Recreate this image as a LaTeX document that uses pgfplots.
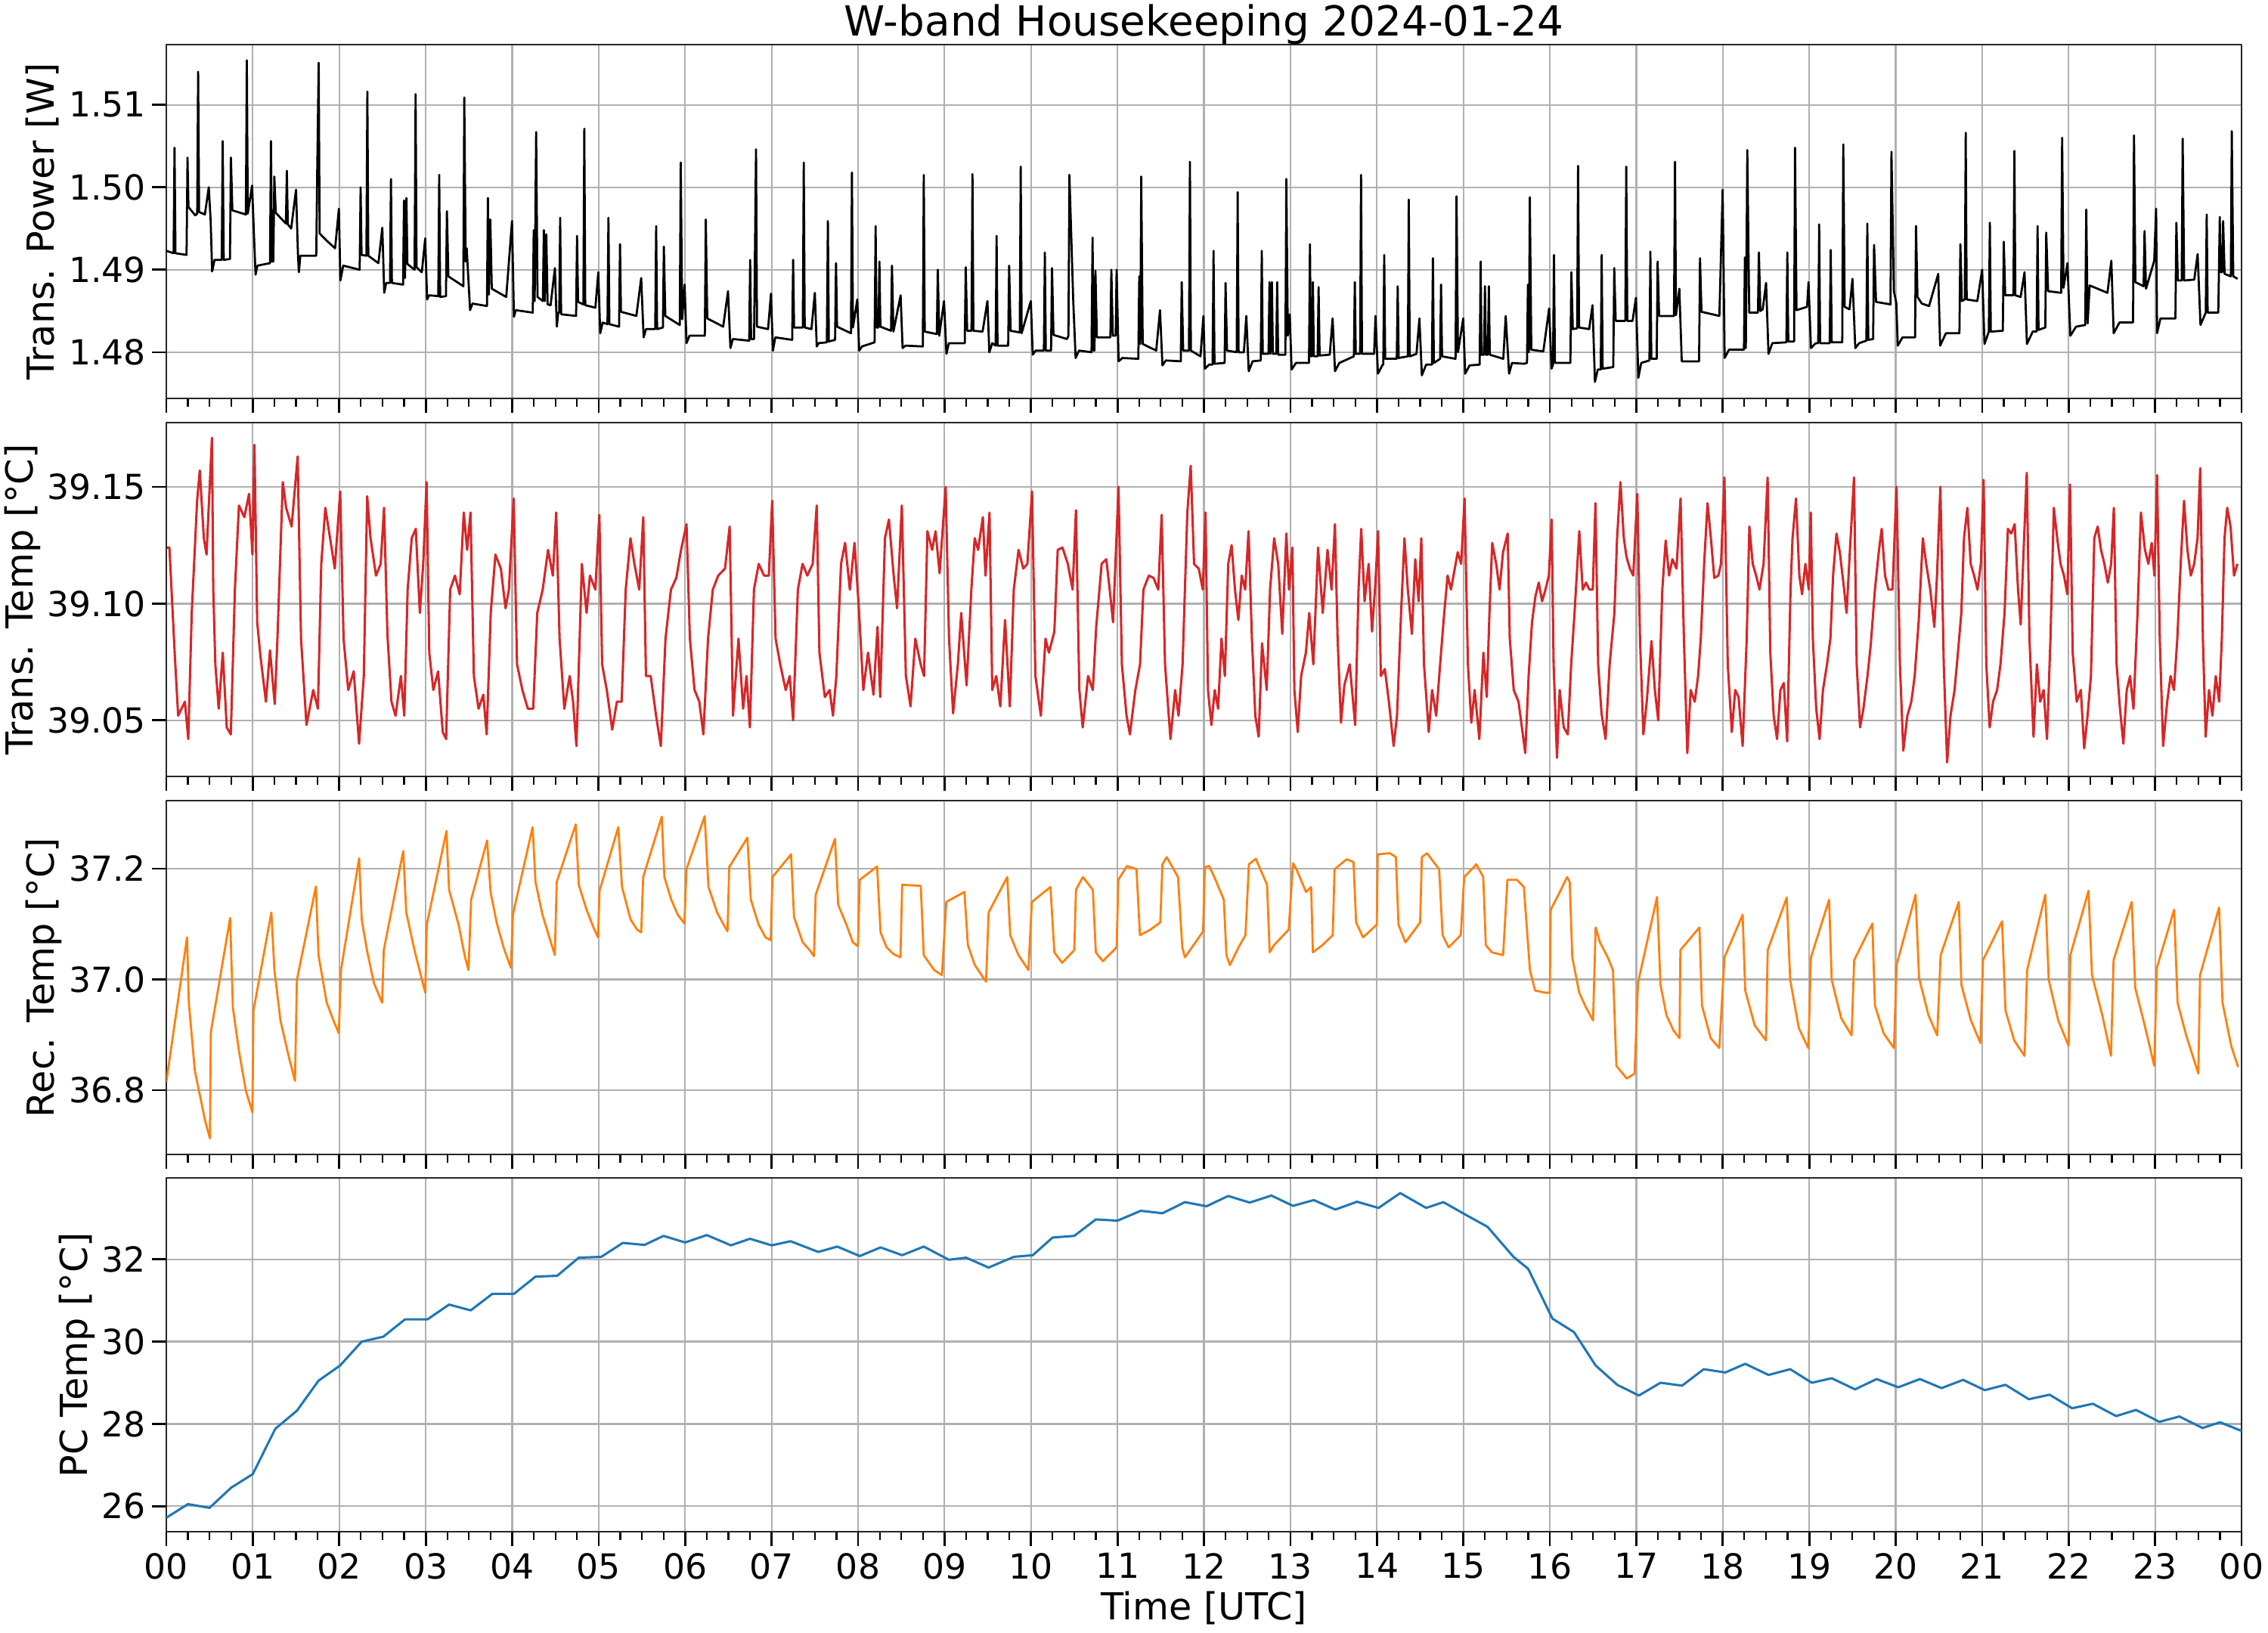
\documentclass[border=0pt]{standalone}
\usepackage{fontspec}
\setmainfont{DejaVu Sans}
\usepackage{pgfplots}
\usepackage{pgfplotstable}
\pgfplotsset{compat=1.18}
\definecolor{cred}{HTML}{D62728}
\definecolor{corange}{HTML}{FF7F0E}
\definecolor{cblue}{HTML}{1F77B4}
\definecolor{gridc}{HTML}{B0B0B0}
\definecolor{spine}{HTML}{262626}

\pgfplotstableread{
h v
0.000 1.4923
0.084 1.4920
0.095 1.5048
0.106 1.4920
0.234 1.4918
0.245 1.5036
0.256 1.4976
0.335 1.4966
0.357 1.4968
0.368 1.5140
0.379 1.4970
0.446 1.4967
0.491 1.5000
0.513 1.4959
0.530 1.4898
0.558 1.4912
0.641 1.4912
0.652 1.5056
0.664 1.4912
0.736 1.4913
0.747 1.5036
0.764 1.4972
0.920 1.4967
0.931 1.5154
0.942 1.4968
0.992 1.5002
1.015 1.4939
1.032 1.4894
1.054 1.4905
1.199 1.4908
1.210 1.5056
1.221 1.4910
1.238 1.4910
1.249 1.5013
1.266 1.4969
1.383 1.4956
1.394 1.5020
1.405 1.4955
1.444 1.4950
1.500 1.4997
1.522 1.4920
1.533 1.4897
1.550 1.4917
1.734 1.4917
1.745 1.5018
1.762 1.5151
1.773 1.4944
1.857 1.4935
1.952 1.4926
1.996 1.4974
2.013 1.4887
2.046 1.4905
2.236 1.4900
2.247 1.5000
2.258 1.4918
2.314 1.4917
2.325 1.5116
2.336 1.4917
2.453 1.4908
2.498 1.4951
2.520 1.4872
2.543 1.4884
2.587 1.4884
2.598 1.5010
2.609 1.4884
2.738 1.4882
2.749 1.4984
2.760 1.4890
2.777 1.4987
2.788 1.4907
2.871 1.4900
2.883 1.5113
2.894 1.4903
2.955 1.4897
2.994 1.4938
3.016 1.4864
3.039 1.4869
3.145 1.4868
3.156 1.5015
3.167 1.4867
3.234 1.4868
3.245 1.4971
3.262 1.4892
3.435 1.4880
3.446 1.5109
3.462 1.4910
3.474 1.4926
3.513 1.4851
3.541 1.4859
3.708 1.4856
3.719 1.4987
3.730 1.4870
3.747 1.4961
3.764 1.4877
3.931 1.4867
3.998 1.4959
4.020 1.4843
4.042 1.4851
4.238 1.4848
4.249 1.4948
4.260 1.4862
4.277 1.5067
4.293 1.4867
4.355 1.4862
4.366 1.4948
4.377 1.4862
4.394 1.4943
4.410 1.4858
4.444 1.4857
4.494 1.4902
4.516 1.4831
4.533 1.4848
4.544 1.4848
4.555 1.4963
4.566 1.4846
4.739 1.4844
4.750 1.4941
4.762 1.4861
4.823 1.4858
4.834 1.5071
4.845 1.4857
4.962 1.4854
4.996 1.4897
5.018 1.4823
5.046 1.4836
5.102 1.4834
5.113 1.4963
5.124 1.4834
5.236 1.4831
5.247 1.4931
5.258 1.4849
5.436 1.4844
5.492 1.4890
5.520 1.4818
5.548 1.4828
5.654 1.4828
5.665 1.4953
5.676 1.4828
5.743 1.4830
5.754 1.4928
5.771 1.4844
5.938 1.4833
5.949 1.5030
5.966 1.4840
5.994 1.4882
6.016 1.4811
6.050 1.4820
6.228 1.4820
6.239 1.4961
6.256 1.4841
6.440 1.4831
6.496 1.4874
6.524 1.4805
6.552 1.4816
6.741 1.4814
6.752 1.4912
6.763 1.4816
6.797 1.4816
6.820 1.5046
6.831 1.4831
6.959 1.4828
6.993 1.4871
7.015 1.4802
7.043 1.4818
7.238 1.4815
7.249 1.4912
7.260 1.4830
7.361 1.4830
7.372 1.5030
7.383 1.4830
7.461 1.4828
7.500 1.4872
7.522 1.4807
7.545 1.4811
7.639 1.4812
7.651 1.4959
7.662 1.4813
7.734 1.4815
7.745 1.4908
7.757 1.4831
7.918 1.4823
7.929 1.5018
7.941 1.4830
7.991 1.4864
8.013 1.4802
8.046 1.4807
8.191 1.4812
8.203 1.4953
8.214 1.4830
8.236 1.4830
8.247 1.4910
8.258 1.4831
8.381 1.4826
8.392 1.4905
8.409 1.4825
8.492 1.4869
8.515 1.4805
8.548 1.4808
8.749 1.4807
8.760 1.5015
8.771 1.4825
8.911 1.4822
8.922 1.4900
8.939 1.4820
8.994 1.4862
9.022 1.4798
9.050 1.4811
9.234 1.4811
9.245 1.4903
9.262 1.4826
9.312 1.4826
9.323 1.5016
9.334 1.4826
9.440 1.4825
9.496 1.4862
9.518 1.4800
9.552 1.4811
9.591 1.4808
9.602 1.4941
9.613 1.4808
9.736 1.4808
9.747 1.4905
9.764 1.4826
9.870 1.4824
9.881 1.5025
9.892 1.4823
9.998 1.4862
10.020 1.4797
10.054 1.4802
10.149 1.4802
10.160 1.4921
10.171 1.4802
10.232 1.4802
10.243 1.4902
10.260 1.4821
10.416 1.4816
10.433 1.4820
10.444 1.5015
10.489 1.4861
10.516 1.4793
10.555 1.4802
10.700 1.4800
10.712 1.4939
10.723 1.4802
10.734 1.4802
10.745 1.4899
10.762 1.4818
10.918 1.4818
10.929 1.4900
10.946 1.4820
10.979 1.4820
10.990 1.4900
11.013 1.4789
11.057 1.4793
11.241 1.4792
11.252 1.4892
11.264 1.4810
11.275 1.5013
11.292 1.4810
11.448 1.4802
11.492 1.4851
11.520 1.4784
11.559 1.4790
11.732 1.4789
11.743 1.4885
11.760 1.4802
11.827 1.4802
11.838 1.5031
11.849 1.4802
11.960 1.4795
11.994 1.4844
12.011 1.4780
12.061 1.4785
12.100 1.4785
12.111 1.4923
12.122 1.4786
12.239 1.4787
12.250 1.4884
12.267 1.4802
12.379 1.4800
12.390 1.4994
12.401 1.4800
12.462 1.4800
12.490 1.4844
12.518 1.4777
12.563 1.4789
12.657 1.4790
12.669 1.4923
12.680 1.4798
12.747 1.4798
12.758 1.4885
12.769 1.4798
12.786 1.4885
12.797 1.4798
12.836 1.4798
12.847 1.4885
12.858 1.4797
12.942 1.4797
12.953 1.5010
12.970 1.4820
12.992 1.4846
13.014 1.4779
13.064 1.4787
13.215 1.4787
13.226 1.4931
13.237 1.4795
13.249 1.4795
13.260 1.4885
13.271 1.4795
13.315 1.4795
13.326 1.4879
13.338 1.4796
13.455 1.4797
13.488 1.4841
13.516 1.4777
13.566 1.4787
13.734 1.4795
13.745 1.4885
13.756 1.4798
13.806 1.4798
13.817 1.5015
13.828 1.4798
13.968 1.4798
13.984 1.4844
14.012 1.4774
14.068 1.4785
14.074 1.4785
14.085 1.4918
14.096 1.4792
14.230 1.4792
14.241 1.4880
14.252 1.4793
14.358 1.4795
14.369 1.4985
14.380 1.4795
14.458 1.4798
14.492 1.4841
14.520 1.4772
14.570 1.4785
14.637 1.4785
14.648 1.4914
14.659 1.4787
14.731 1.4792
14.742 1.4882
14.754 1.4795
14.910 1.4792
14.921 1.4989
14.938 1.4800
14.999 1.4841
15.021 1.4774
15.072 1.4784
15.189 1.4785
15.200 1.4910
15.211 1.4797
15.239 1.4797
15.250 1.4880
15.261 1.4797
15.283 1.4797
15.295 1.4880
15.306 1.4797
15.462 1.4792
15.490 1.4844
15.529 1.4774
15.563 1.4787
15.702 1.4786
15.736 1.4787
15.747 1.4882
15.758 1.4800
15.769 1.4988
15.786 1.4803
15.925 1.4801
15.992 1.4853
16.020 1.4780
16.037 1.4785
16.048 1.4918
16.059 1.4787
16.238 1.4787
16.249 1.4897
16.266 1.4828
16.316 1.4829
16.327 1.5026
16.338 1.4830
16.455 1.4828
16.494 1.4857
16.522 1.4764
16.555 1.4779
16.589 1.4779
16.600 1.4918
16.611 1.4780
16.734 1.4782
16.745 1.4902
16.762 1.4838
16.873 1.4838
16.884 1.5025
16.896 1.4838
16.957 1.4838
16.996 1.4866
17.024 1.4769
17.057 1.4787
17.152 1.4790
17.163 1.4922
17.174 1.4792
17.236 1.4792
17.247 1.4910
17.264 1.4844
17.436 1.4844
17.448 1.5031
17.459 1.4845
17.498 1.4877
17.526 1.4789
17.570 1.4789
17.726 1.4789
17.737 1.4914
17.754 1.4849
17.961 1.4844
17.999 1.4997
18.022 1.4793
18.072 1.4803
18.245 1.4803
18.256 1.4915
18.267 1.4805
18.284 1.5045
18.306 1.4848
18.407 1.4848
18.418 1.4921
18.435 1.4850
18.462 1.4852
18.501 1.4884
18.529 1.4798
18.574 1.4811
18.736 1.4812
18.747 1.4921
18.758 1.4813
18.825 1.4813
18.836 1.5048
18.853 1.4851
18.975 1.4855
18.992 1.4885
19.020 1.4805
19.076 1.4811
19.104 1.4811
19.115 1.4955
19.126 1.4811
19.237 1.4811
19.249 1.4924
19.260 1.4812
19.382 1.4812
19.394 1.5052
19.410 1.4855
19.466 1.4852
19.500 1.4889
19.533 1.4805
19.578 1.4811
19.661 1.4814
19.672 1.4956
19.683 1.4815
19.739 1.4816
19.750 1.4930
19.773 1.4861
19.940 1.4858
19.951 1.5043
19.979 1.4874
20.007 1.4860
20.024 1.4808
20.079 1.4818
20.224 1.4818
20.235 1.4953
20.252 1.4867
20.302 1.4859
20.386 1.4856
20.492 1.4895
20.514 1.4808
20.581 1.4823
20.737 1.4823
20.748 1.4931
20.765 1.4862
20.799 1.4864
20.810 1.5066
20.821 1.4864
20.944 1.4862
21.000 1.4900
21.027 1.4810
21.077 1.4825
21.089 1.4957
21.100 1.4825
21.239 1.4826
21.250 1.4934
21.267 1.4869
21.362 1.4869
21.373 1.5044
21.384 1.4869
21.445 1.4867
21.490 1.4897
21.518 1.4810
21.585 1.4825
21.630 1.4825
21.641 1.4953
21.652 1.4827
21.730 1.4830
21.741 1.4945
21.763 1.4874
21.914 1.4872
21.925 1.5060
21.941 1.4878
21.986 1.4908
22.020 1.4820
22.086 1.4831
22.192 1.4833
22.204 1.4973
22.220 1.4835
22.243 1.4881
22.449 1.4872
22.494 1.4911
22.521 1.4823
22.588 1.4836
22.745 1.4836
22.756 1.5063
22.772 1.4885
22.867 1.4880
22.878 1.4947
22.895 1.4877
22.990 1.4911
23.012 1.4974
23.023 1.4823
23.062 1.4841
23.235 1.4841
23.246 1.4957
23.263 1.4887
23.308 1.4887
23.319 1.5059
23.336 1.4887
23.453 1.4888
23.492 1.4919
23.525 1.4833
23.586 1.4848
23.597 1.4967
23.608 1.4848
23.731 1.4848
23.748 1.4964
23.759 1.4897
23.776 1.4897
23.787 1.4959
23.804 1.4895
23.876 1.4892
23.887 1.5068
23.904 1.4892
23.954 1.4889
}\tabPow

\pgfplotstableread{
h v
0.010 39.124
0.036 39.124
0.098 39.078
0.137 39.052
0.215 39.058
0.254 39.042
0.294 39.096
0.356 39.144
0.387 39.157
0.434 39.128
0.465 39.121
0.528 39.171
0.543 39.106
0.567 39.074
0.606 39.055
0.653 39.079
0.699 39.047
0.746 39.044
0.793 39.106
0.840 39.142
0.902 39.137
0.957 39.147
0.996 39.121
1.019 39.168
1.051 39.092
1.090 39.077
1.152 39.058
1.199 39.080
1.254 39.057
1.285 39.085
1.347 39.152
1.386 39.141
1.449 39.133
1.519 39.163
1.558 39.085
1.621 39.048
1.699 39.063
1.753 39.055
1.792 39.117
1.839 39.141
1.894 39.128
1.948 39.115
2.011 39.148
2.050 39.085
2.104 39.063
2.167 39.071
2.229 39.040
2.284 39.069
2.323 39.146
2.362 39.128
2.425 39.112
2.479 39.117
2.518 39.141
2.557 39.087
2.604 39.058
2.651 39.052
2.713 39.069
2.752 39.052
2.791 39.106
2.838 39.128
2.885 39.132
2.932 39.096
2.971 39.117
3.010 39.152
3.041 39.079
3.088 39.063
3.143 39.071
3.197 39.045
3.236 39.042
3.283 39.106
3.338 39.112
3.393 39.104
3.440 39.139
3.479 39.123
3.518 39.139
3.557 39.069
3.611 39.055
3.666 39.061
3.705 39.044
3.752 39.096
3.806 39.121
3.869 39.115
3.923 39.098
3.962 39.106
4.017 39.145
4.056 39.074
4.118 39.063
4.181 39.055
4.243 39.055
4.290 39.096
4.353 39.106
4.415 39.123
4.470 39.112
4.509 39.139
4.548 39.085
4.603 39.055
4.665 39.069
4.704 39.058
4.743 39.039
4.806 39.117
4.860 39.096
4.899 39.112
4.962 39.106
5.008 39.138
5.040 39.074
5.094 39.063
5.157 39.046
5.211 39.058
5.266 39.058
5.313 39.106
5.368 39.128
5.414 39.117
5.469 39.106
5.516 39.137
5.547 39.069
5.602 39.069
5.664 39.052
5.719 39.039
5.773 39.085
5.836 39.106
5.898 39.111
5.953 39.123
6.016 39.134
6.055 39.085
6.109 39.063
6.164 39.058
6.211 39.044
6.265 39.085
6.320 39.106
6.383 39.112
6.461 39.115
6.515 39.133
6.554 39.052
6.617 39.085
6.671 39.055
6.710 39.069
6.749 39.047
6.796 39.106
6.851 39.117
6.913 39.112
6.968 39.112
7.007 39.144
7.046 39.085
7.100 39.074
7.163 39.063
7.210 39.069
7.249 39.050
7.304 39.106
7.358 39.117
7.413 39.112
7.475 39.117
7.522 39.142
7.553 39.079
7.616 39.060
7.671 39.063
7.710 39.052
7.749 39.069
7.803 39.117
7.850 39.126
7.905 39.106
7.959 39.126
8.006 39.100
8.061 39.063
8.115 39.079
8.178 39.061
8.225 39.090
8.256 39.060
8.311 39.128
8.357 39.136
8.412 39.112
8.451 39.098
8.506 39.142
8.553 39.069
8.607 39.056
8.662 39.085
8.724 39.074
8.763 39.069
8.802 39.131
8.857 39.123
8.896 39.131
8.943 39.113
9.013 39.150
9.052 39.085
9.099 39.053
9.154 39.074
9.193 39.096
9.255 39.065
9.310 39.106
9.349 39.128
9.388 39.123
9.443 39.137
9.474 39.112
9.520 39.139
9.552 39.063
9.598 39.069
9.645 39.056
9.700 39.093
9.755 39.056
9.801 39.106
9.856 39.123
9.911 39.115
9.958 39.117
10.012 39.148
10.051 39.069
10.114 39.052
10.168 39.085
10.207 39.079
10.270 39.088
10.309 39.123
10.364 39.124
10.426 39.117
10.481 39.106
10.520 39.140
10.559 39.063
10.598 39.047
10.660 39.069
10.715 39.063
10.754 39.090
10.817 39.117
10.871 39.119
10.910 39.106
10.949 39.092
11.012 39.150
11.051 39.074
11.105 39.052
11.144 39.044
11.207 39.063
11.261 39.074
11.300 39.106
11.363 39.112
11.417 39.111
11.472 39.106
11.511 39.138
11.550 39.074
11.613 39.042
11.667 39.063
11.706 39.052
11.753 39.074
11.808 39.139
11.847 39.159
11.886 39.117
11.940 39.115
11.987 39.106
12.018 39.139
12.047 39.063
12.086 39.048
12.125 39.063
12.164 39.055
12.203 39.085
12.242 39.069
12.281 39.117
12.320 39.125
12.359 39.106
12.398 39.093
12.437 39.112
12.477 39.106
12.516 39.131
12.555 39.085
12.594 39.052
12.633 39.043
12.672 39.083
12.726 39.063
12.765 39.106
12.812 39.128
12.859 39.117
12.906 39.087
12.953 39.130
12.984 39.106
13.023 39.124
13.046 39.063
13.085 39.045
13.124 39.069
13.179 39.079
13.218 39.096
13.265 39.074
13.320 39.124
13.374 39.096
13.429 39.123
13.476 39.106
13.515 39.134
13.546 39.085
13.585 39.049
13.624 39.065
13.686 39.074
13.749 39.048
13.788 39.106
13.819 39.132
13.858 39.101
13.905 39.117
13.944 39.088
13.983 39.109
14.014 39.131
14.046 39.069
14.092 39.072
14.139 39.058
14.194 39.039
14.233 39.052
14.280 39.096
14.319 39.128
14.358 39.106
14.405 39.087
14.444 39.119
14.483 39.101
14.514 39.128
14.545 39.074
14.600 39.045
14.639 39.063
14.686 39.052
14.740 39.078
14.779 39.096
14.818 39.112
14.857 39.106
14.896 39.114
14.935 39.122
14.975 39.117
15.014 39.145
15.053 39.074
15.092 39.049
15.131 39.063
15.185 39.042
15.232 39.079
15.271 39.060
15.302 39.096
15.334 39.126
15.380 39.117
15.419 39.106
15.459 39.122
15.513 39.130
15.537 39.085
15.583 39.063
15.638 39.058
15.677 39.047
15.716 39.036
15.755 39.069
15.794 39.092
15.833 39.103
15.872 39.109
15.911 39.101
15.950 39.106
15.989 39.112
16.021 39.136
16.044 39.074
16.083 39.034
16.114 39.063
16.161 39.047
16.208 39.044
16.247 39.074
16.286 39.096
16.341 39.131
16.380 39.106
16.419 39.109
16.458 39.106
16.497 39.106
16.528 39.143
16.559 39.074
16.598 39.053
16.645 39.042
16.692 39.074
16.747 39.096
16.778 39.128
16.817 39.152
16.856 39.128
16.887 39.120
16.926 39.115
16.965 39.112
17.012 39.147
17.043 39.085
17.082 39.044
17.121 39.058
17.176 39.084
17.215 39.063
17.254 39.050
17.301 39.106
17.340 39.127
17.379 39.112
17.418 39.119
17.465 39.115
17.512 39.145
17.551 39.085
17.590 39.036
17.629 39.063
17.676 39.058
17.715 39.069
17.746 39.085
17.785 39.117
17.824 39.143
17.863 39.128
17.902 39.111
17.949 39.112
17.980 39.117
18.019 39.154
18.058 39.074
18.105 39.045
18.144 39.063
18.183 39.060
18.230 39.039
18.277 39.085
18.308 39.133
18.347 39.117
18.386 39.112
18.425 39.106
18.472 39.117
18.519 39.154
18.550 39.079
18.589 39.052
18.628 39.042
18.667 39.063
18.706 39.066
18.745 39.041
18.784 39.106
18.807 39.128
18.847 39.145
18.886 39.112
18.917 39.104
18.956 39.117
18.995 39.106
19.018 39.139
19.042 39.085
19.081 39.055
19.120 39.042
19.159 39.063
19.206 39.074
19.245 39.085
19.276 39.112
19.315 39.130
19.354 39.122
19.401 39.107
19.432 39.096
19.471 39.123
19.518 39.154
19.549 39.074
19.588 39.047
19.627 39.055
19.674 39.069
19.713 39.083
19.760 39.106
19.807 39.123
19.838 39.132
19.877 39.112
19.916 39.106
19.963 39.106
20.010 39.150
20.049 39.074
20.088 39.037
20.135 39.052
20.181 39.058
20.220 39.069
20.267 39.093
20.314 39.128
20.353 39.117
20.400 39.106
20.447 39.090
20.478 39.112
20.517 39.150
20.556 39.074
20.595 39.032
20.634 39.052
20.681 39.063
20.720 39.079
20.759 39.096
20.790 39.128
20.829 39.141
20.868 39.117
20.907 39.112
20.946 39.106
20.985 39.117
21.017 39.153
21.048 39.074
21.087 39.047
21.126 39.058
21.173 39.063
21.212 39.074
21.259 39.096
21.298 39.132
21.337 39.130
21.376 39.134
21.415 39.106
21.446 39.091
21.485 39.128
21.516 39.156
21.547 39.085
21.594 39.043
21.633 39.074
21.672 39.058
21.711 39.063
21.750 39.042
21.790 39.085
21.829 39.141
21.868 39.128
21.907 39.117
21.946 39.112
21.985 39.104
22.016 39.151
22.047 39.079
22.094 39.058
22.141 39.063
22.180 39.038
22.219 39.052
22.258 39.069
22.297 39.128
22.336 39.133
22.375 39.123
22.414 39.117
22.453 39.109
22.492 39.117
22.523 39.141
22.555 39.074
22.594 39.055
22.633 39.040
22.672 39.063
22.711 39.069
22.750 39.055
22.797 39.096
22.836 39.139
22.883 39.123
22.922 39.117
22.961 39.126
22.992 39.112
23.023 39.155
23.054 39.085
23.093 39.039
23.140 39.058
23.179 39.069
23.218 39.063
23.257 39.085
23.296 39.117
23.335 39.144
23.374 39.123
23.413 39.112
23.452 39.117
23.491 39.128
23.522 39.158
23.553 39.085
23.585 39.043
23.624 39.063
23.663 39.052
23.702 39.069
23.741 39.058
23.772 39.085
23.803 39.128
23.834 39.141
23.873 39.133
23.913 39.112
23.952 39.117
}\tabTT

\pgfplotstableread{
h v
0.000 36.815
0.240 37.076
0.260 36.958
0.330 36.835
0.450 36.744
0.504 36.713
0.515 36.905
0.738 37.111
0.770 36.949
0.840 36.871
0.920 36.799
0.996 36.760
1.008 36.944
1.215 37.121
1.250 37.017
1.320 36.926
1.420 36.858
1.488 36.817
1.510 36.999
1.730 37.168
1.760 37.044
1.855 36.958
1.933 36.926
1.995 36.903
2.020 37.017
2.230 37.219
2.260 37.108
2.320 37.053
2.400 36.994
2.495 36.958
2.515 37.053
2.740 37.232
2.775 37.121
2.870 37.053
2.950 37.003
2.995 36.976
3.012 37.099
3.240 37.268
3.270 37.162
3.380 37.099
3.455 37.040
3.495 37.017
3.525 37.144
3.710 37.251
3.750 37.158
3.820 37.103
3.900 37.058
3.985 37.021
4.008 37.117
4.236 37.275
4.270 37.176
4.350 37.117
4.430 37.076
4.493 37.044
4.515 37.176
4.735 37.280
4.770 37.171
4.860 37.126
4.940 37.094
4.993 37.076
5.010 37.160
5.227 37.275
5.270 37.167
5.370 37.108
5.445 37.090
5.492 37.085
5.515 37.185
5.730 37.294
5.760 37.185
5.840 37.144
5.915 37.117
5.992 37.101
6.015 37.199
6.226 37.295
6.270 37.167
6.370 37.121
6.445 37.099
6.490 37.087
6.510 37.203
6.720 37.256
6.760 37.144
6.850 37.099
6.930 37.076
6.990 37.071
7.010 37.185
7.225 37.226
7.260 37.112
7.360 37.067
7.440 37.053
7.490 37.042
7.510 37.153
7.733 37.254
7.770 37.135
7.865 37.099
7.940 37.067
7.998 37.060
8.020 37.180
8.220 37.204
8.260 37.085
8.330 37.058
8.410 37.046
8.490 37.040
8.510 37.171
8.725 37.169
8.760 37.044
8.880 37.017
8.970 37.008
9.020 37.140
9.230 37.158
9.270 37.062
9.350 37.026
9.480 36.996
9.510 37.121
9.725 37.185
9.760 37.080
9.855 37.044
9.970 37.017
10.010 37.140
10.225 37.167
10.270 37.049
10.360 37.030
10.500 37.053
10.520 37.162
10.600 37.185
10.715 37.162
10.750 37.049
10.830 37.033
10.990 37.058
11.010 37.180
11.110 37.205
11.220 37.199
11.260 37.080
11.380 37.090
11.495 37.103
11.520 37.208
11.570 37.221
11.700 37.185
11.750 37.058
11.780 37.040
11.920 37.071
11.990 37.087
12.010 37.203
12.060 37.205
12.120 37.185
12.230 37.144
12.260 37.044
12.300 37.026
12.400 37.058
12.480 37.080
12.520 37.208
12.600 37.218
12.730 37.171
12.760 37.049
12.810 37.062
12.980 37.090
13.030 37.210
13.070 37.199
13.180 37.158
13.240 37.167
13.260 37.049
13.370 37.062
13.490 37.080
13.510 37.199
13.650 37.217
13.730 37.212
13.760 37.103
13.840 37.076
13.999 37.099
14.010 37.226
14.150 37.228
14.220 37.221
14.250 37.099
14.330 37.067
14.500 37.103
14.520 37.221
14.580 37.228
14.720 37.199
14.760 37.080
14.830 37.058
14.970 37.080
15.010 37.185
15.150 37.208
15.230 37.185
15.260 37.062
15.330 37.049
15.460 37.044
15.510 37.180
15.620 37.180
15.700 37.167
15.770 37.017
15.830 36.980
15.950 36.976
16.000 36.976
16.010 37.126
16.100 37.153
16.200 37.185
16.230 37.176
16.260 37.040
16.340 36.976
16.420 36.949
16.500 36.926
16.530 37.094
16.580 37.067
16.670 37.040
16.730 37.017
16.770 36.844
16.890 36.821
16.980 36.830
17.020 36.994
17.240 37.149
17.280 36.990
17.350 36.935
17.430 36.908
17.500 36.894
17.510 37.053
17.730 37.094
17.760 36.953
17.860 36.894
17.960 36.876
18.020 37.040
18.230 37.117
18.260 36.980
18.370 36.917
18.500 36.890
18.520 37.053
18.740 37.148
18.780 36.999
18.880 36.912
18.990 36.876
19.020 37.040
19.230 37.144
19.260 36.999
19.370 36.930
19.490 36.899
19.520 37.035
19.730 37.101
19.760 36.953
19.860 36.903
19.980 36.876
20.010 37.026
20.230 37.153
20.270 37.003
20.380 36.935
20.480 36.899
20.520 37.044
20.730 37.140
20.760 36.990
20.870 36.926
20.980 36.885
21.010 37.035
21.230 37.105
21.270 36.944
21.370 36.890
21.490 36.862
21.520 37.017
21.730 37.153
21.770 36.999
21.880 36.926
22.000 36.880
22.020 37.044
22.230 37.160
22.270 37.008
22.390 36.935
22.490 36.862
22.520 37.035
22.730 37.140
22.770 36.985
22.880 36.917
22.990 36.844
23.020 37.021
23.220 37.126
23.260 36.958
23.360 36.899
23.500 36.830
23.520 37.008
23.740 37.130
23.780 36.958
23.880 36.880
23.960 36.842
}\tabRT

\pgfplotstableread{
h v
0.00 25.72
0.25 26.05
0.50 25.96
0.75 26.45
1.00 26.78
1.26 27.88
1.51 28.32
1.76 29.05
2.01 29.42
2.26 30.00
2.51 30.12
2.76 30.54
3.02 30.54
3.27 30.90
3.52 30.76
3.77 31.16
4.02 31.16
4.27 31.58
4.52 31.60
4.77 32.04
5.03 32.06
5.28 32.40
5.53 32.35
5.75 32.57
6.00 32.41
6.25 32.59
6.53 32.34
6.75 32.50
7.00 32.34
7.22 32.44
7.54 32.18
7.76 32.31
8.02 32.08
8.26 32.29
8.51 32.10
8.76 32.31
9.05 31.99
9.25 32.04
9.51 31.80
9.80 32.06
10.02 32.10
10.25 32.53
10.50 32.57
10.75 32.97
11.00 32.94
11.27 33.18
11.52 33.12
11.78 33.39
12.03 33.29
12.28 33.54
12.53 33.38
12.78 33.55
13.03 33.30
13.27 33.44
13.52 33.21
13.77 33.40
14.02 33.25
14.27 33.61
14.57 33.25
14.77 33.39
15.03 33.08
15.28 32.79
15.58 32.06
15.75 31.77
16.03 30.56
16.28 30.23
16.53 29.42
16.78 28.95
17.03 28.69
17.28 29.00
17.53 28.93
17.78 29.33
18.03 29.25
18.26 29.46
18.53 29.19
18.78 29.33
19.03 29.00
19.26 29.11
19.53 28.84
19.78 29.09
20.03 28.89
20.28 29.09
20.53 28.87
20.78 29.07
21.03 28.82
21.27 28.95
21.54 28.60
21.78 28.71
22.04 28.38
22.28 28.49
22.55 28.19
22.78 28.34
23.05 28.05
23.28 28.18
23.55 27.90
23.75 28.04
24.00 27.83
}\tabPC

\pgfplotsset{
  hk/.style={
    scale only axis, width=13.725in, height=2.34in, anchor=south west,
    xmin=0, xmax=24, xtick={0,1,...,24}, minor x tick num=3,
    tick align=outside, xtick pos=bottom, ytick pos=left,
    major tick length=0.095in, minor tick length=0.053in,
    major tick style={line width=1pt, black},
    minor tick style={line width=0.8pt, black},
    grid=major, major grid style={gridc, line width=0.8pt},
    axis line style={spine, line width=1pt},
    /pgf/number format/assume math mode=true,
    ticklabel style={font=\fontsize{16.5}{19}\selectfont},
    yticklabel style={inner sep=0pt, xshift=-2.7pt},
    xticklabel style={inner sep=0pt, yshift=-3.2pt},
    xticklabels={},
    line join=round,
  }
}

\begin{document}
\begin{tikzpicture}
\path[use as bounding box] (0,0) rectangle (15in,10.8in);

\begin{axis}[hk, at={(1.1in,8.165in)}, ymin=1.4744, ymax=1.5173,
  ytick={1.48,1.49,1.50,1.51}, yticklabels={1.48,1.49,1.50,1.51}]
\addplot[black, line width=1pt, mark=none] table[x=h, y=v] {\tabPow};
\end{axis}

\begin{axis}[hk, at={(1.1in,5.665in)}, ymin=39.026, ymax=39.1775,
  ytick={39.05,39.10,39.15}, yticklabels={39.05,39.10,39.15}]
\addplot[cred, line width=1.1pt, mark=none] table[x=h, y=v] {\tabTT};
\end{axis}

\begin{axis}[hk, at={(1.1in,3.165in)}, ymin=36.684, ymax=37.323,
  ytick={36.8,37.0,37.2}, yticklabels={36.8,37.0,37.2}]
\addplot[corange, line width=1pt, mark=none] table[x=h, y=v] {\tabRT};
\end{axis}

\begin{axis}[hk, at={(1.1in,0.67in)}, ymin=25.38, ymax=33.98,
  ytick={26,28,30,32}, yticklabels={26,28,30,32},
  xticklabels={00,01,02,03,04,05,06,07,08,09,10,11,12,13,14,15,16,17,18,19,20,21,22,23,00}]
\addplot[cblue, line width=1.1pt, mark=none] table[x=h, y=v] {\tabPC};
\end{axis}

\node[font=\fontsize{19.8}{23}\selectfont, anchor=base, inner sep=0pt] at (7.9625in,10.5625in) {W-band Housekeeping 2024-01-24};
\node[font=\fontsize{17.8}{21}\selectfont, anchor=base, inner sep=0pt] at (7.9625in,0.085in) {Time [UTC]};
\node[font=\fontsize{17.8}{21}\selectfont, rotate=90, inner sep=0pt] at (0.28in,9.335in) {Trans. Power [W]};
\node[font=\fontsize{17.8}{21}\selectfont, rotate=90, inner sep=0pt] at (0.15in,6.835in) {Trans. Temp [°C]};
\node[font=\fontsize{17.8}{21}\selectfont, rotate=90, inner sep=0pt] at (0.29in,4.335in) {Rec. Temp [°C]};
\node[font=\fontsize{17.8}{21}\selectfont, rotate=90, inner sep=0pt] at (0.51in,1.84in) {PC Temp [°C]};
\end{tikzpicture}
\end{document}
